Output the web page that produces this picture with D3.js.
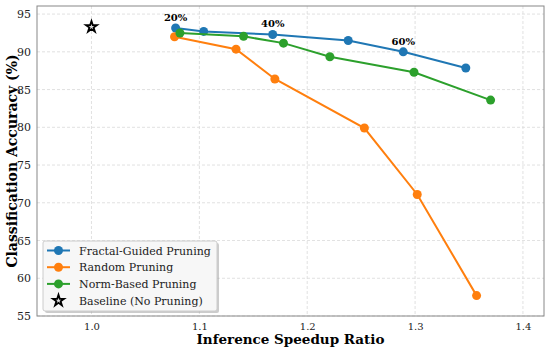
<!DOCTYPE html>
<html>
<head>
<meta charset="utf-8">
<script src="https://cdn.jsdelivr.net/npm/d3@7"></script>
<style>
  body { margin: 0; background: #fff; }
  svg { display: block; font-family: "DejaVu Serif", serif; }
</style>
</head>
<body>
<div id="chart"></div>
<script>
var chart_width  = 550;
var chart_height = 348;
var margin = {top: 6, right: 6, bottom: 32, left: 37};

// Data
var fractalSpeedup = [1.078, 1.104, 1.168, 1.238, 1.289, 1.347];
var fractalAcc     = [93.15, 92.7, 92.3, 91.5, 90.0, 87.85];
var randomSpeedup  = [1.077, 1.134, 1.170, 1.253, 1.302, 1.357];
var randomAcc      = [92.0, 90.35, 86.4, 79.9, 71.1, 57.7];
var normSpeedup    = [1.082, 1.141, 1.178, 1.221, 1.299, 1.370];
var normAcc        = [92.5, 92.05, 91.15, 89.35, 87.3, 83.6];
var baseline       = {speedup: 1.0, acc: 93.3};
var pruneLabels    = [{i: 0, text: "20%"}, {i: 2, text: "40%"}, {i: 4, text: "60%"}];
var xTicks = [1.0, 1.1, 1.2, 1.3, 1.4];
var yTicks = [55, 60, 65, 70, 75, 80, 85, 90, 95];

var series = [
  {name: "Fractal-Guided Pruning", color: "#1f77b4", xs: fractalSpeedup, ys: fractalAcc},
  {name: "Random Pruning",         color: "#ff7f0e", xs: randomSpeedup,  ys: randomAcc},
  {name: "Norm-Based Pruning",     color: "#2ca02c", xs: normSpeedup,    ys: normAcc}
];

var w = chart_width - margin.left - margin.right;
var h = chart_height - margin.top - margin.bottom;

var x = d3.scaleLinear().domain([0.9495, 1.4195]).range([0, w]);
var y = d3.scaleLinear().domain([55, 96.07]).range([h, 0]);

var svg = d3.select("#chart").append("svg")
  .attr("width", chart_width)
  .attr("height", chart_height);

var g = svg.append("g")
  .attr("transform", "translate(" + margin.left + "," + margin.top + ")");

// grid
g.append("g").selectAll("line").data(xTicks).enter().append("line")
  .attr("x1", x).attr("x2", x).attr("y1", 0).attr("y2", h)
  .attr("stroke", "#d9d9d9").attr("stroke-width", 0.8).attr("stroke-dasharray", "3,2");
g.append("g").selectAll("line").data(yTicks).enter().append("line")
  .attr("y1", y).attr("y2", y).attr("x1", 0).attr("x2", w)
  .attr("stroke", "#d9d9d9").attr("stroke-width", 0.8).attr("stroke-dasharray", "3,2");

// axes
var xAxis = g.append("g")
  .attr("transform", "translate(0," + h + ")")
  .call(d3.axisBottom(x).tickValues(xTicks).tickFormat(d3.format(".1f")).tickSize(0).tickPadding(7));
var yAxis = g.append("g")
  .call(d3.axisLeft(y).tickValues(yTicks).tickSize(0).tickPadding(6));
xAxis.select(".domain").remove();
yAxis.select(".domain").remove();
xAxis.selectAll("text").attr("font-size", 10).attr("font-family", "DejaVu Serif").attr("fill", "#222");
yAxis.selectAll("text").attr("font-size", 11).attr("font-family", "DejaVu Serif").attr("fill", "#222");

// frame
g.append("rect").attr("width", w).attr("height", h)
  .attr("fill", "none").attr("stroke", "#888").attr("stroke-width", 1);

// lines
var line = d3.line().x(function(d){ return x(d[0]); }).y(function(d){ return y(d[1]); });

series.forEach(function(s){
  var pts = d3.zip(s.xs, s.ys);
  g.append("path").datum(pts)
    .attr("d", line)
    .attr("fill", "none")
    .attr("stroke", s.color)
    .attr("stroke-width", 2);
  g.append("g").selectAll("circle").data(pts).enter().append("circle")
    .attr("cx", function(d){ return x(d[0]); })
    .attr("cy", function(d){ return y(d[1]); })
    .attr("r", 4.5)
    .attr("fill", s.color);
});

// baseline star
var star = d3.symbol().type(d3.symbolStar).size(38);
g.append("path")
  .attr("d", star())
  .attr("transform", "translate(" + x(baseline.speedup) + "," + y(baseline.acc) + ")")
  .attr("fill", "#ddd").attr("stroke", "#000").attr("stroke-width", 1.8);

// pruning ratio labels
g.append("g").selectAll("text").data(pruneLabels).enter().append("text")
  .attr("x", function(d){ return x(fractalSpeedup[d.i]); })
  .attr("y", function(d){ return y(fractalAcc[d.i]) - 7; })
  .attr("text-anchor", "middle")
  .attr("font-size", 10)
  .attr("font-weight", "bold")
  .text(function(d){ return d.text; });

// axis titles
svg.append("text")
  .attr("x", margin.left + w / 2).attr("y", chart_height - 4)
  .attr("text-anchor", "middle").attr("font-size", 13.5).attr("font-weight", "bold")
  .text("Inference Speedup Ratio");
svg.append("text")
  .attr("transform", "translate(17," + (margin.top + h / 2) + ") rotate(-90)")
  .attr("text-anchor", "middle").attr("font-size", 14).attr("font-weight", "bold")
  .text("Classification Accuracy (%)");

// legend
var lg = g.append("g").attr("transform", "translate(6,235)");
lg.append("rect").attr("x", 2).attr("y", 2).attr("width", 174).attr("height", 70)
  .attr("fill", "#999").attr("opacity", 0.5).attr("rx", 2);
lg.append("rect").attr("width", 174).attr("height", 70)
  .attr("fill", "#f7f7f7").attr("stroke", "#ccc").attr("rx", 2);

var legendItems = series.concat([{name: "Baseline (No Pruning)", star: true}]);
var items = lg.selectAll("g.item").data(legendItems).enter().append("g")
  .attr("class", "item")
  .attr("transform", function(d, i){ return "translate(0," + (9.5 + i * 16.7) + ")"; });
items.each(function(d){
  var it = d3.select(this);
  if (d.star) {
    it.append("path").attr("d", star()).attr("transform", "translate(15.5,0)")
      .attr("fill", "#ddd").attr("stroke", "#000").attr("stroke-width", 1.8);
  } else {
    it.append("line").attr("x1", 4).attr("x2", 27).attr("stroke", d.color).attr("stroke-width", 2);
    it.append("circle").attr("cx", 15.5).attr("r", 4.5).attr("fill", d.color);
  }
  it.append("text").attr("x", 36).attr("y", 4).attr("font-size", 11).attr("fill", "#222").text(d.name);
});
</script>
</body>
</html>
